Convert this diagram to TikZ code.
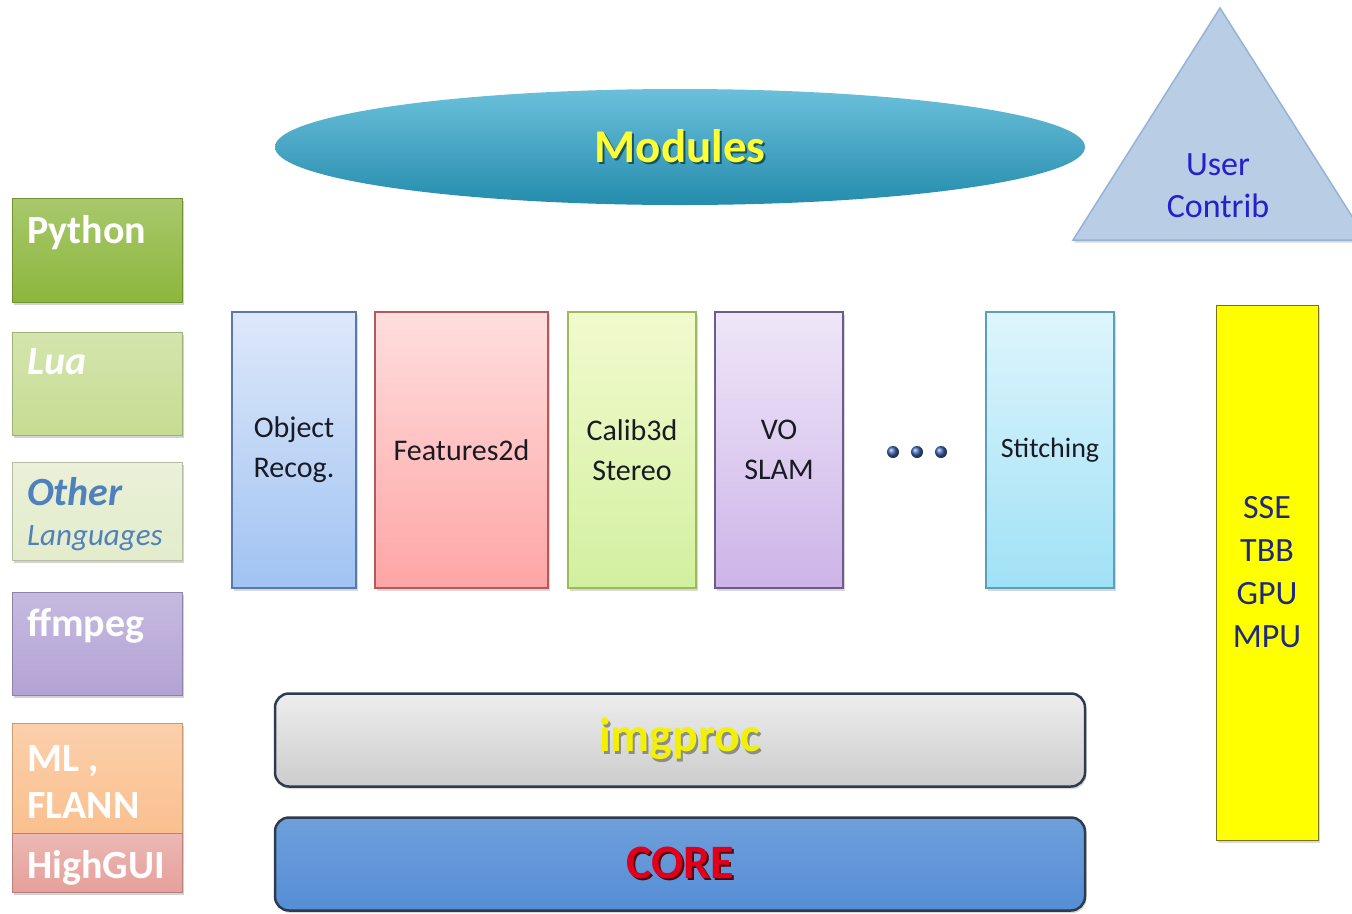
\documentclass[tikz,border=0pt]{standalone}
\usepackage{fontspec}
\setmainfont{Carlito}
\usetikzlibrary{positioning, shapes.geometric, shadows}
\definecolor{pythongreen}{RGB}{140, 182, 60}
\definecolor{luagreen}{RGB}{198, 220, 146}
\definecolor{othergreen}{RGB}{227, 236, 203}
\definecolor{ffmpegpurple}{RGB}{179, 163, 213}
\definecolor{mlorange}{RGB}{250, 192, 143}
\definecolor{guired}{RGB}{230, 160, 155}
\definecolor{otherblue}{RGB}{79, 129, 189}
\definecolor{modteal}{RGB}{43, 165, 203}
\definecolor{modyellow}{RGB}{255, 255, 51}
\definecolor{contribfill}{RGB}{185, 205, 229}
\definecolor{contribedge}{RGB}{149, 179, 215}
\definecolor{contribtext}{RGB}{34, 34, 204}
\definecolor{modtext}{RGB}{26, 26, 36}
\definecolor{accelyellow}{RGB}{255, 255, 0}
\definecolor{acceltext}{RGB}{31, 42, 122}
\definecolor{baredge}{RGB}{46, 59, 78}
\definecolor{imgprocgray}{RGB}{204, 204, 204}
\definecolor{corebar}{RGB}{85, 142, 213}
\definecolor{corered}{RGB}{224, 0, 27}
\definecolor{dotblue}{RGB}{60, 100, 180}
% module column colours: edge, top, bottom
\definecolor{objedge}{RGB}{90, 120, 170}
\definecolor{objtop}{RGB}{222, 232, 250}
\definecolor{objbot}{RGB}{160, 195, 242}
\definecolor{featedge}{RGB}{180, 90, 90}
\definecolor{feattop}{RGB}{255, 222, 222}
\definecolor{featbot}{RGB}{255, 165, 165}
\definecolor{calibedge}{RGB}{155, 187, 89}
\definecolor{calibtop}{RGB}{242, 250, 205}
\definecolor{calibbot}{RGB}{210, 240, 160}
\definecolor{voedge}{RGB}{110, 90, 140}
\definecolor{votop}{RGB}{238, 230, 248}
\definecolor{vobot}{RGB}{205, 180, 232}
\definecolor{stitchedge}{RGB}{90, 160, 190}
\definecolor{stitchtop}{RGB}{222, 245, 252}
\definecolor{stitchbot}{RGB}{160, 225, 246}
\newcommand{\shadowtext}[2]{\makebox[0pt][l]{\raisebox{-2.5pt}{\hspace{2pt}\textcolor{#1}{#2}}}#2}

\begin{document}
\begin{tikzpicture}[x=1pt, y=-1pt,
    langbox/.style={draw=#1!80!black, line width=1pt, top color=#1!75!white, bottom color=#1,
      minimum width=170, inner sep=0, outer sep=0,
      drop shadow={shadow xshift=1.5pt, shadow yshift=-2.5pt, opacity=.35}},
    langtext/.style={anchor=base west, inner sep=0, text=white,
      font=\fontsize{40}{47}\selectfont\bfseries},
    modbox/.style n args={3}{draw=#1, line width=1.2pt, top color=#2, bottom color=#3,
      minimum width=128, minimum height=276, inner sep=0, outer sep=0,
      align=center, text=modtext, font=\fontsize{30}{40}\selectfont,
      drop shadow={shadow xshift=1.5pt, shadow yshift=-2.5pt, opacity=.3}},
    layerbar/.style={rounded corners=14, line width=2.5pt, draw=baredge,
      minimum width=810, minimum height=93, inner sep=0,
      font=\fontsize{48}{56}\selectfont\bfseries,
      drop shadow={shadow xshift=1.5pt, shadow yshift=-2.5pt, opacity=.3}},
    dotball/.style={circle, inner sep=0, minimum size=12, ball color=dotblue}]
  \useasboundingbox (0,0) rectangle (1352,913);
  \fill[white] (0,0) rectangle (1352,913);

  % Language bindings and 3rd party libs (left column)
  \node[langbox=pythongreen, minimum height=104] (python) at (97,250) {};
  \node[langbox=luagreen, minimum height=103] (lua) at (97,383.5) {};
  \node[langbox=othergreen, minimum height=98] (other) at (97,511) {};
  \node[langbox=ffmpegpurple, minimum height=103] (ffmpeg) at (97,643.5) {};
  \node[langbox=mlorange, minimum height=110] (ml) at (97,778) {};
  \node[langbox=guired, minimum height=59] (highgui) at (97,862.5) {};

  \node[langtext] (pythonlbl) at (27,243) {Python};
  \node[langtext, font=\fontsize{40}{47}\selectfont\bfseries\itshape] (lualbl) at (27,374) {Lua};
  \node[langtext, text=otherblue, font=\fontsize{40}{47}\selectfont\bfseries\itshape] (otherlbl) at (27,505) {Other};
  \node[langtext, text=otherblue, font=\fontsize{31}{36}\selectfont\itshape] (langlbl) at (27,545) {Languages};
  \node[langtext] (ffmpeglbl) at (27,636) {ffmpeg};
  \node[langtext, anchor=north west, align=left] (mllbl) at (27,745) {ML ,\\FLANN};
  \node[langtext] (highguilbl) at (27,878) {HighGUI};

  % Modules ellipse
  \node[ellipse, minimum width=810, minimum height=116, inner sep=0,
    top color=modteal!70!white, bottom color=modteal!85!black, draw=none,
    text=modyellow, font=\fontsize{47}{54}\selectfont\bfseries] (modules) at (680,147)
    {\shadowtext{modteal!50!black}{Modules}};

  % User contributed code
  \coordinate (apex) at (1220,8);
  \coordinate (baseL) at (1073,240);
  \coordinate (baseR) at (1367,240);
  \draw[draw=contribedge, line width=1.5pt, fill=contribfill,
    drop shadow={shadow xshift=1pt, shadow yshift=-2.5pt, opacity=.3}]
    (apex) -- (baseR) -- (baseL) -- cycle;
  \node[align=center, text=contribtext, font=\fontsize{34}{42}\selectfont] (contrib) at (1218,186) {User\\Contrib};

  % Module columns
  \node[modbox={objedge}{objtop}{objbot}, minimum width=124] (objrec) at (294,450) {Object\\Recog.};
  \node[modbox={featedge}{feattop}{featbot}, minimum width=173,
    right=19pt of objrec] (feat) {Features2d};
  \node[modbox={calibedge}{calibtop}{calibbot}, right=20pt of feat] (calib) {Calib3d\\Stereo};
  \node[modbox={voedge}{votop}{vobot}, right=19pt of calib] (vo) {VO\\SLAM};
  \node[dotball] (dot1) at (893,452) {};
  \node[dotball] (dot2) at (917,452) {};
  \node[dotball] (dot3) at (941,452) {};
  \node[modbox={stitchedge}{stitchtop}{stitchbot}, font=\fontsize{28}{36}\selectfont]
    (stitch) at (1050,450) {Stitching};

  % Hardware acceleration column
  \node[draw=olive!80!black, line width=1pt, fill=accelyellow, minimum width=102,
    minimum height=535, inner sep=0, align=center, text=acceltext,
    font=\fontsize{34}{43}\selectfont,
    drop shadow={shadow xshift=1.5pt, shadow yshift=-2.5pt, opacity=.3}] (accel) at (1267,572.5)
    {SSE\\TBB\\GPU\\MPU};

  % Base layers
  \node[layerbar, top color=imgprocgray!35!white, bottom color=imgprocgray, text=accelyellow!95!black]
    (imgproc) at (680,740) {\shadowtext{black!45}{imgproc}};
  \node[layerbar, top color=corebar!85!white, bottom color=corebar, text=corered]
    (core) at (680,864) {\shadowtext{corered!40!black}{CORE}};
\end{tikzpicture}
\end{document}
